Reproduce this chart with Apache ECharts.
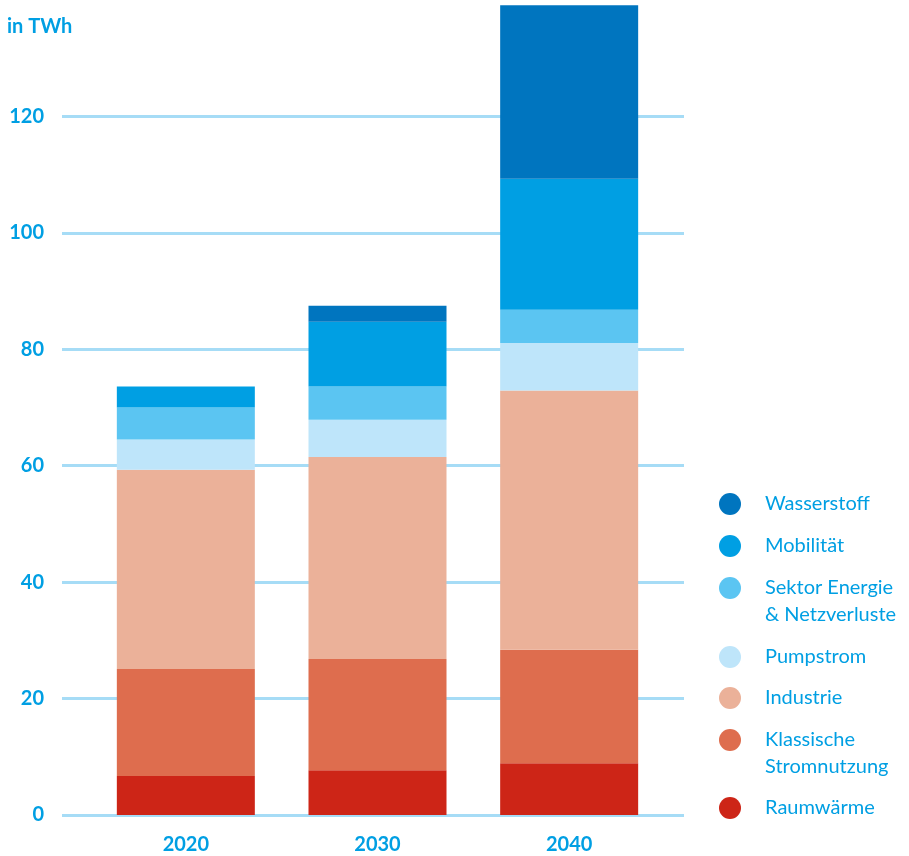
<!DOCTYPE html>
<html><head><meta charset="utf-8">
<script src="https://cdn.jsdelivr.net/npm/echarts@6/dist/echarts.min.js"></script>
<style>html,body{margin:0;padding:0;background:#fff}#c{width:909px;height:856px}</style>
</head><body><div id="c"></div>
<script>
const categories = ['2020', '2030', '2040'];
const yTicks = [0, 20, 40, 60, 80, 100, 120];
const unitLabel = 'in TWh';
const raumwaerme = [6.7, 7.7, 8.9];
const klassische = [18.4, 19.1, 19.5];
const industrie = [34.2, 34.7, 44.5];
const pumpstrom = [5.2, 6.4, 8.2];
const sektor = [5.5, 5.7, 5.7];
const mobilitaet = [3.6, 11.15, 22.5];
const wasserstoff = [0, 2.75, 29.8];

const seriesDefs = [
  {name: 'Raumwärme', data: raumwaerme, color: '#cd2517', legend: 'Raumwärme'},
  {name: 'Klassische Stromnutzung', data: klassische, color: '#de6d4e', legend: 'Klassische\nStromnutzung'},
  {name: 'Industrie', data: industrie, color: '#ebb199', legend: 'Industrie'},
  {name: 'Pumpstrom', data: pumpstrom, color: '#bee5fa', legend: 'Pumpstrom'},
  {name: 'Sektor Energie & Netzverluste', data: sektor, color: '#5bc5f2', legend: 'Sektor Energie\n& Netzverluste'},
  {name: 'Mobilität', data: mobilitaet, color: '#009fe3', legend: 'Mobilität'},
  {name: 'Wasserstoff', data: wasserstoff, color: '#0075bf', legend: 'Wasserstoff'}
];
const legendCenters = {
  'Wasserstoff': 504, 'Mobilität': 546, 'Sektor Energie & Netzverluste': 588,
  'Pumpstrom': 657, 'Industrie': 698, 'Klassische Stromnutzung': 740, 'Raumwärme': 808
};

const FONT = 'Lato, "Noto Sans", sans-serif';
const BLUE = '#009fe3';
const YMAX = 140;

const legends = seriesDefs.slice().reverse().map(s => {
  const two = s.legend.indexOf('\n') >= 0;
  const c = legendCenters[s.name];
  return {
    data: [s.name],
    orient: 'vertical',
    left: 719,
    top: two ? c - 40.5 : c - 11,
    padding: 0,
    itemWidth: 22, itemHeight: 22, icon: 'circle',
    selectedMode: false,
    formatter: () => two ? ' \n' + s.legend : s.legend,
    textStyle: {
      fontFamily: FONT, fontSize: 20, color: BLUE,
      lineHeight: two ? 27 : 22,
      padding: [0, 0, 0, 19]
    }
  };
});

const chart = echarts.init(document.getElementById('c'), null, {renderer: 'canvas'});
chart.setOption({
  animation: false,
  backgroundColor: '#fff',
  title: {
    text: unitLabel, left: 7, top: 17, padding: 0,
    textStyle: {fontFamily: FONT, fontSize: 20, fontWeight: 'bold', color: BLUE}
  },
  legend: legends,
  grid: [
    {left: 62, right: 225, top: 0, bottom: 41},
    {left: 90, right: 244, top: 0, bottom: 41}
  ],
  xAxis: [
    {gridIndex: 0, type: 'value', show: false, min: 0, max: 1},
    {gridIndex: 1, type: 'category', data: categories,
     axisLine: {show: false}, axisTick: {show: false},
     axisLabel: {margin: 20, fontFamily: FONT, fontSize: 20, fontWeight: 'bold', color: BLUE}}
  ],
  yAxis: [
    {gridIndex: 0, type: 'value', min: 0, max: YMAX, interval: 20,
     axisLine: {show: false}, axisTick: {show: false},
     splitLine: {show: true, showMaxLine: false, lineStyle: {color: '#a6dcf6', width: 3}},
     axisLabel: {margin: 18, showMaxLabel: false, fontFamily: FONT, fontSize: 20, fontWeight: 'bold', color: BLUE,
       formatter: v => yTicks.indexOf(v) >= 0 ? String(v) : ''}},
    {gridIndex: 1, type: 'value', min: 0, max: YMAX, show: false, splitLine: {show: false}}
  ],
  series: seriesDefs.map(s => ({
    name: s.name, type: 'bar', stack: 'total',
    xAxisIndex: 1, yAxisIndex: 1,
    barWidth: 138,
    itemStyle: {color: s.color},
    data: s.data
  }))
});
</script></body></html>
